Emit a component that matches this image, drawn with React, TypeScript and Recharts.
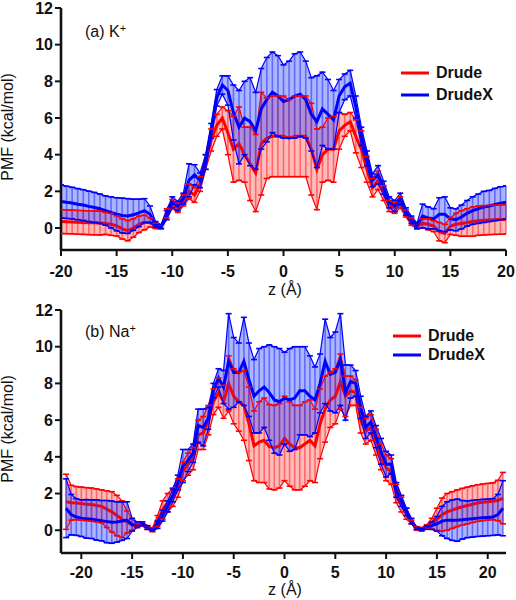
import React from 'react'
import { ComposedChart, Line, Area, XAxis, YAxis, ErrorBar, Legend } from 'recharts'

// PMF profiles for K+ (a) and Na+ (b), Drude vs DrudeX, with error bars
const FONT = '"Liberation Sans", Arial, sans-serif'
const RED = '#ff0000'
const BLUE = '#0000ff'

// ---- panel (a) K+ ----
const K_Z = [
  -20, -19.5, -19, -18.5, -18, -17.5, -17, -16.5, -16, -15.5, -15, -14.5, -14, -13.5, -13, -12.5, -12,
  -11.5, -11, -10.5, -10, -9.5, -9, -8.5, -8, -7.5, -7, -6.5, -6, -5.5, -5, -4.5, -4, -3.5, -3, -2.5,
  -2, -1.5, -1, -0.5, 0, 0.5, 1, 1.5, 2, 2.5, 3, 3.5, 4, 4.5, 5, 5.5, 6, 6.5, 7, 7.5, 8, 8.5, 9, 9.5,
  10, 10.5, 11, 11.5, 12, 12.5, 13, 13.5, 14, 14.5, 15, 15.5, 16, 16.5, 17, 17.5, 18, 18.5, 19, 19.5, 20,
]
const K_DRUDE = [
  0.35, 0.34, 0.33, 0.31, 0.3, 0.29, 0.28, 0.27, 0.25, 0.2, 0.12, -0.05, -0.15, 0.0, 0.2, 0.3, 0.3,
  0.12, 0.05, 0.8, 1.3, 1.1, 1.5, 2.0, 1.8, 2.4, 3.6, 4.8, 5.6, 6.0, 5.2, 4.3, 4.6, 4.0, 3.5, 3.0,
  4.6, 4.9, 5.0, 5.0, 5.0, 4.9, 5.0, 5.0, 5.0, 4.3, 3.2, 4.0, 4.3, 4.3, 5.3, 5.6, 5.8, 5.0, 4.3, 3.2,
  2.2, 2.6, 1.9, 1.2, 1.1, 1.4, 0.8, 0.35, 0.1, 0.25, 0.2, 0.1, -0.2, -0.3, 0.1, 0.2, 0.25, 0.3, 0.35,
  0.4, 0.42, 0.44, 0.45, 0.46, 0.47,
]
const K_DRUDE_ERR = [
  0.65, 0.65, 0.65, 0.65, 0.65, 0.65, 0.65, 0.65, 0.6, 0.6, 0.55, 0.55, 0.55, 0.5, 0.45, 0.4, 0.25,
  0.15, 0.1, 0.25, 0.25, 0.25, 0.3, 0.4, 0.4, 0.4, 0.4, 0.6, 0.6, 0.6, 1.2, 1.8, 2.0, 1.5, 2.0, 2.1,
  2.8, 2.2, 2.2, 2.2, 2.2, 2.1, 2.2, 2.2, 2.2, 2.5, 2.2, 1.5, 1.7, 1.8, 1.0, 0.6, 0.5, 0.9, 1.0, 0.7,
  0.5, 0.5, 0.4, 0.3, 0.3, 0.3, 0.2, 0.2, 0.15, 0.25, 0.3, 0.3, 0.5, 0.5, 0.45, 0.6, 0.7, 0.75, 0.8,
  0.8, 0.8, 0.8, 0.8, 0.8, 0.8,
]
const K_DRUDEX = [
  1.45, 1.4, 1.36, 1.3, 1.25, 1.18, 1.12, 1.05, 0.95, 0.85, 0.75, 0.68, 0.65, 0.72, 0.82, 0.95, 0.75,
  0.2, 0.08, 0.7, 1.4, 1.2, 1.6, 2.6, 2.9, 2.6, 3.6, 5.3, 7.1, 7.8, 7.5, 6.3, 5.5, 6.0, 5.8, 5.3,
  6.5, 7.0, 7.4, 7.2, 6.9, 7.0, 7.2, 7.3, 7.0, 6.2, 5.8, 6.5, 6.2, 5.9, 7.2, 7.7, 7.9, 6.6, 5.0, 3.8,
  2.6, 2.9, 2.2, 1.4, 1.2, 1.6, 0.9, 0.45, 0.12, 0.65, 0.55, 0.5, 0.75, 0.75, 0.5, 0.45, 0.6, 0.8, 0.95,
  1.05, 1.15, 1.2, 1.28, 1.35, 1.4,
]
const K_DRUDEX_ERR = [
  0.9, 0.88, 0.86, 0.85, 0.84, 0.83, 0.82, 0.8, 0.8, 0.85, 0.9, 0.95, 0.95, 0.85, 0.75, 0.65, 0.45,
  0.15, 0.1, 0.25, 0.3, 0.25, 0.3, 0.9, 0.55, 0.4, 0.4, 0.4, 0.45, 0.5, 0.8, 1.5, 2.0, 2.0, 2.4, 2.1,
  2.2, 2.3, 2.2, 2.2, 2.0, 2.1, 2.3, 2.3, 2.1, 2.0, 2.5, 2.0, 1.9, 1.6, 0.9, 0.7, 0.7, 0.6, 0.5, 0.4,
  0.35, 0.5, 0.35, 0.3, 0.3, 0.3, 0.2, 0.2, 0.15, 0.65, 0.6, 0.55, 0.9, 0.95, 0.6, 0.6, 0.65, 0.7, 0.75,
  0.8, 0.85, 0.85, 0.88, 0.9, 0.9,
]

// ---- panel (b) Na+ ----
const NA_Z = [
  -21.5, -21, -20.5, -20, -19.5, -19, -18.5, -18, -17.5, -17, -16.5, -16, -15.5, -15, -14.5, -14, -13.5,
  -13, -12.5, -12, -11.5, -11, -10.5, -10, -9.5, -9, -8.5, -8, -7.5, -7, -6.5, -6, -5.5, -5, -4.5, -4,
  -3.5, -3, -2.5, -2, -1.5, -1, -0.5, 0, 0.5, 1, 1.5, 2, 2.5, 3, 3.5, 4, 4.5, 5, 5.5, 6, 6.5, 7, 7.5,
  8, 8.5, 9, 9.5, 10, 10.5, 11, 11.5, 12, 12.5, 13, 13.5, 14, 14.5, 15, 15.5, 16, 16.5, 17, 17.5, 18,
  18.5, 19, 19.5, 20, 20.5, 21, 21.5,
]
const NA_DRUDE = [
  1.55, 1.5, 1.48, 1.45, 1.42, 1.4, 1.35, 1.3, 1.15, 1.0, 0.8, 0.6, 0.45, 0.3, 0.25, 0.35, 0.15,
  0.02, 0.5, 1.1, 1.5, 1.8, 2.3, 3.2, 3.6, 3.9, 5.2, 5.3, 6.0, 7.0, 7.5, 7.0, 8.0, 7.3, 7.0, 6.8,
  5.8, 4.6, 4.8, 4.9, 4.55, 4.5, 4.6, 5.0, 4.7, 4.5, 4.5, 4.7, 4.9, 4.6, 5.8, 6.6, 7.1, 7.3, 8.1, 7.3,
  7.6, 7.5, 6.0, 5.4, 5.6, 4.8, 4.0, 3.4, 3.2, 2.0, 1.4, 0.9, 0.45, 0.1, 0.05, 0.2, 0.35, 0.6, 0.85,
  1.0, 1.1, 1.2, 1.28, 1.35, 1.42, 1.48, 1.52, 1.55, 1.58, 1.62, 1.75,
]
const NA_DRUDE_ERR = [
  1.5, 0.95, 0.9, 0.9, 0.9, 0.9, 0.9, 0.9, 1.0, 1.1, 1.1, 1.0, 0.6, 0.3, 0.1, 0.1, 0.1,
  0.1, 0.3, 0.5, 0.5, 0.5, 0.5, 0.5, 0.6, 0.6, 0.8, 0.9, 0.8, 0.7, 0.8, 0.9, 1.5, 1.5, 1.6, 1.9,
  2.0, 1.9, 2.2, 2.3, 2.3, 2.3, 2.3, 2.3, 2.3, 2.3, 2.3, 2.3, 2.2, 2.0, 1.9, 1.8, 1.5, 1.5, 1.5, 1.1,
  0.8, 0.7, 0.7, 0.7, 0.7, 0.7, 0.7, 0.7, 0.7, 0.5, 0.4, 0.3, 0.1, 0.1, 0.1, 0.1, 0.3, 0.6, 0.9,
  1.0, 1.0, 1.0, 1.0, 1.0, 1.0, 1.0, 1.0, 1.0, 1.0, 1.1, 1.4,
]
const NA_DRUDEX = [
  1.2, 0.85, 0.72, 0.66, 0.62, 0.6, 0.56, 0.52, 0.47, 0.44, 0.45, 0.5, 0.55, 0.3, 0.3, 0.35, 0.15,
  0.02, 0.3, 0.8, 1.3, 1.9, 2.6, 3.5, 3.8, 4.2, 5.7, 5.6, 6.1, 7.6, 8.3, 7.8, 9.2, 8.6, 8.6, 9.2,
  8.2, 7.3, 7.6, 7.8, 7.5, 7.1, 7.0, 7.2, 7.1, 7.2, 7.6, 7.6, 7.3, 7.1, 8.0, 9.2, 8.5, 8.6, 9.3, 7.5,
  8.1, 8.0, 6.7, 5.6, 5.9, 5.1, 4.3, 3.6, 3.6, 2.2, 1.6, 1.0, 0.5, 0.1, 0.05, 0.15, 0.25, 0.35, 0.5,
  0.55, 0.55, 0.55, 0.57, 0.6, 0.63, 0.66, 0.68, 0.7, 0.72, 0.85, 1.2,
]
const NA_DRUDEX_ERR = [
  1.6, 1.1, 1.0, 1.0, 1.05, 1.05, 1.1, 1.1, 1.15, 1.15, 1.1, 1.05, 1.0, 0.35, 0.15, 0.1, 0.1,
  0.05, 0.2, 0.3, 0.3, 0.35, 0.4, 0.9, 0.6, 0.5, 0.9, 1.0, 0.6, 0.4, 0.5, 0.9, 2.6, 1.9, 1.6, 2.4,
  2.0, 2.0, 2.3, 2.2, 2.6, 2.9, 2.9, 2.5, 2.8, 2.8, 2.4, 2.4, 2.2, 1.8, 1.6, 2.3, 2.0, 2.2, 2.5, 1.5,
  0.9, 0.7, 0.6, 0.6, 0.6, 0.6, 0.7, 0.7, 0.5, 0.4, 0.3, 0.2, 0.15, 0.05, 0.05, 0.1, 0.2, 0.4, 0.8,
  1.0, 1.1, 1.15, 1.05, 1.0, 1.0, 1.0, 1.0, 1.0, 1.0, 1.1, 1.5,
]

const Y_TICKS = [0, 2, 4, 6, 8, 10, 12]
const K_X_TICKS = [-20, -15, -10, -5, 0, 5, 10, 15, 20]
const NA_X_TICKS = [-20, -15, -10, -5, 0, 5, 10, 15, 20]

function buildRows(z: number[], dm: number[], de: number[], xm: number[], xe: number[]) {
  return z.map((zz, i) => ({
    z: zz,
    dMean: dm[i],
    dErr: de[i],
    dLo: dm[i] - de[i],
    dHi: dm[i] + de[i],
    dBand: [dm[i] - de[i], dm[i] + de[i]],
    xMean: xm[i],
    xErr: xe[i],
    xLo: xm[i] - xe[i],
    xHi: xm[i] + xe[i],
    xBand: [xm[i] - xe[i], xm[i] + xe[i]],
  }))
}

const capDot = (color: string) => (props: any) => {
  const { cx, cy, index } = props
  if (cx == null || cy == null) return <g key={`c-${index}`} />
  return (
    <line key={`c-${index}`} x1={cx - 3} x2={cx + 3} y1={cy} y2={cy} stroke={color} strokeWidth={1.6} />
  )
}

function LegendBox({ gap }: { gap: number }) {
  const items = [
    { name: 'Drude', color: RED },
    { name: 'DrudeX', color: BLUE },
  ]
  return (
    <div style={{ fontFamily: FONT, fontSize: 16, fontWeight: 'bold', color: '#111' }}>
      {items.map((it) => (
        <div key={it.name} style={{ display: 'flex', alignItems: 'center', height: gap }}>
          <svg width={36} height={8}>
            <line x1={1} x2={29} y1={4} y2={4} stroke={it.color} strokeWidth={3} />
          </svg>
          <span>{it.name}</span>
        </div>
      ))}
    </div>
  )
}

type PanelProps = {
  rows: any[]
  xDomain: [number, number]
  yDomain: [number, number]
  xTicks: number[]
  marginTop: number
  xAxisHeight: number
  tickMargin: number
  title: string
  sup: string
  titleTop: number
  legendTop: number
  legendLeft: number
  legendGap: number
}

function Panel(p: PanelProps) {
  const tickStyle = { fill: '#111', fontSize: 16, fontWeight: 'bold', fontFamily: FONT }
  const axisStroke = { stroke: '#111', strokeWidth: 2.6 }
  return (
    <div style={{ position: 'relative', width: 516, height: 300 }}>
      <ComposedChart
        width={516}
        height={300}
        data={p.rows}
        margin={{ top: p.marginTop, right: 10, bottom: 0, left: 0 }}
      >
        <XAxis
          dataKey="z"
          type="number"
          domain={p.xDomain}
          ticks={p.xTicks}
          interval={0}
          allowDataOverflow
          height={p.xAxisHeight}
          axisLine={axisStroke}
          tickLine={{ stroke: '#111', strokeWidth: 2 }}
          tickSize={6}
          tickMargin={p.tickMargin}
          tick={tickStyle}
        />
        <YAxis
          type="number"
          domain={p.yDomain}
          ticks={Y_TICKS}
          interval={0}
          allowDataOverflow
          width={61}
          axisLine={axisStroke}
          tickLine={{ stroke: '#111', strokeWidth: 2 }}
          tickSize={6}
          tickMargin={2}
          tick={tickStyle}
        />

        {/* Drude */}
        <Area dataKey="dBand" stroke="none" fill="#ff4a4a" fillOpacity={0.38} legendType="none" isAnimationActive={false} />
        <Line dataKey="dMean" stroke="none" dot={false} activeDot={false} legendType="none" isAnimationActive={false}>
          <ErrorBar dataKey="dErr" width={0} stroke="#ff3030" strokeOpacity={0.6} strokeWidth={1.6} />
        </Line>
        <Line dataKey="dHi" stroke={RED} strokeWidth={1.2} dot={capDot(RED)} activeDot={false} legendType="none" isAnimationActive={false} />
        <Line dataKey="dLo" stroke={RED} strokeWidth={1.2} dot={capDot(RED)} activeDot={false} legendType="none" isAnimationActive={false} />
        <Line dataKey="dMean" stroke={RED} strokeWidth={3} dot={false} activeDot={false} name="Drude" isAnimationActive={false} />

        {/* DrudeX */}
        <Area dataKey="xBand" stroke="none" fill="#4a5aff" fillOpacity={0.45} legendType="none" isAnimationActive={false} />
        <Line dataKey="xMean" stroke="none" dot={false} activeDot={false} legendType="none" isAnimationActive={false}>
          <ErrorBar dataKey="xErr" width={0} stroke="#2a3aff" strokeOpacity={0.6} strokeWidth={1.6} />
        </Line>
        <Line dataKey="xHi" stroke={BLUE} strokeWidth={1.2} dot={capDot(BLUE)} activeDot={false} legendType="none" isAnimationActive={false} />
        <Line dataKey="xLo" stroke={BLUE} strokeWidth={1.2} dot={capDot(BLUE)} activeDot={false} legendType="none" isAnimationActive={false} />
        <Line dataKey="xMean" stroke={BLUE} strokeWidth={3} dot={false} activeDot={false} name="DrudeX" isAnimationActive={false} />

        <Legend
          layout="vertical"
          align="center"
          verticalAlign="middle"
          content={() => <LegendBox gap={p.legendGap} />}
          wrapperStyle={{ left: p.legendLeft, top: p.legendTop, width: 120, height: 'auto' }}
        />
      </ComposedChart>

      <div
        style={{
          position: 'absolute', left: 85, top: p.titleTop, fontFamily: FONT, fontSize: 16,
          color: '#111', whiteSpace: 'nowrap', lineHeight: '20px',
        }}
      >
        {p.title}
        <sup style={{ fontSize: 11, verticalAlign: 'top', position: 'relative', top: -4 }}>{p.sup}</sup>
      </div>
      <div
        style={{
          position: 'absolute', left: 7.5, top: p.marginTop + 119, width: 0, height: 0,
        }}
      >
        <div
          style={{
            position: 'absolute', transform: 'translate(-50%, -50%) rotate(-90deg)', fontFamily: FONT,
            fontSize: 16, color: '#111', whiteSpace: 'nowrap',
          }}
        >
          PMF (kcal/mol)
        </div>
      </div>
      <div
        style={{
          position: 'absolute', left: 285, top: 290, width: 0, height: 0,
        }}
      >
        <div
          style={{
            position: 'absolute', transform: 'translate(-50%, -50%)', fontFamily: FONT, fontSize: 16,
            color: '#111', whiteSpace: 'nowrap',
          }}
        >
          z (Å)
        </div>
      </div>
    </div>
  )
}

export default function App() {
  const kRows = buildRows(K_Z, K_DRUDE, K_DRUDE_ERR, K_DRUDEX, K_DRUDEX_ERR)
  const naRows = buildRows(NA_Z, NA_DRUDE, NA_DRUDE_ERR, NA_DRUDEX, NA_DRUDEX_ERR)
  return (
    <div style={{ position: 'absolute', left: 0, top: 0, width: 516, height: 600, background: '#fff' }}>
      <Panel
        rows={kRows}
        xDomain={[-20, 20]}
        yDomain={[-1.2, 12]}
        xTicks={K_X_TICKS}
        marginTop={8}
        xAxisHeight={50}
        tickMargin={10}
        title="(a) K"
        sup="+"
        titleTop={22}
        legendTop={62}
        legendLeft={400}
        legendGap={22}
      />
      <Panel
        rows={naRows}
        xDomain={[-22, 21.8]}
        yDomain={[-1.24, 12]}
        xTicks={NA_X_TICKS}
        marginTop={10}
        xAxisHeight={47}
        tickMargin={8}
        title="(b) Na"
        sup="+"
        titleTop={22}
        legendTop={27}
        legendLeft={392}
        legendGap={18.5}
      />
    </div>
  )
}
